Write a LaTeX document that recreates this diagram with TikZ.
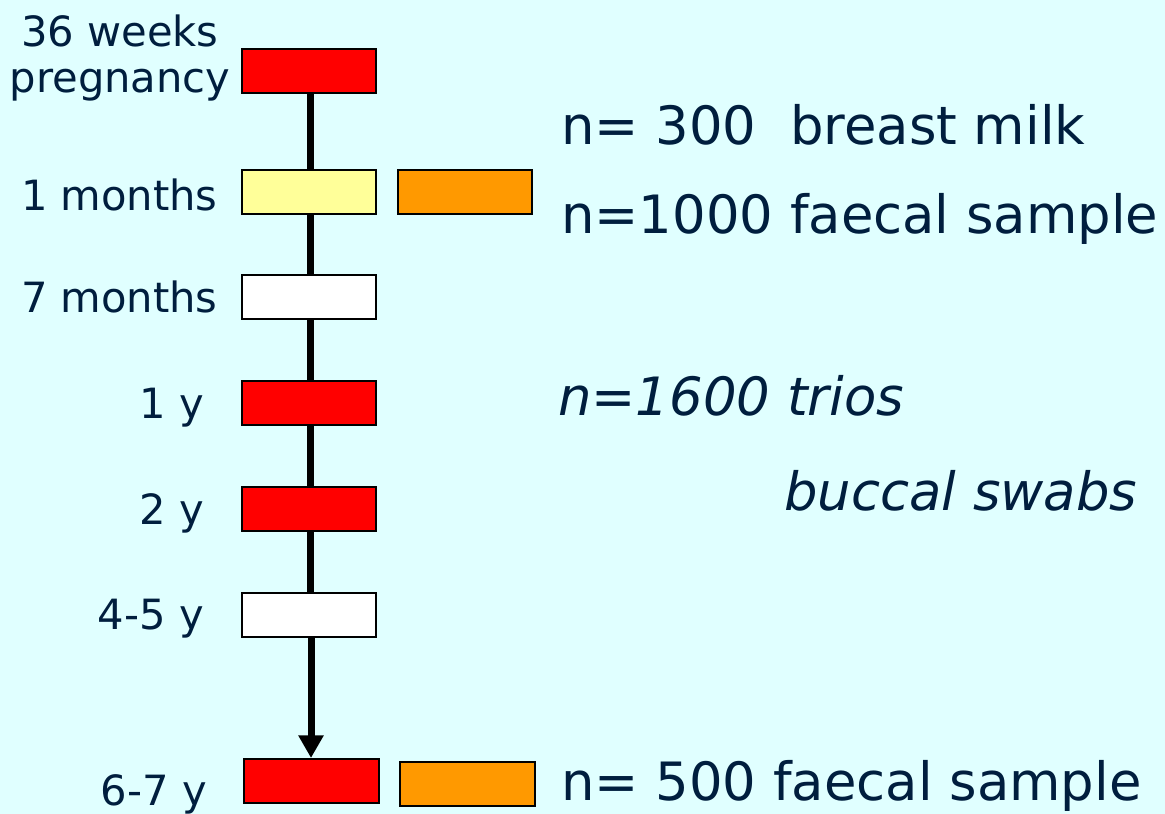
\documentclass[tikz,border=0pt]{standalone}
\usepackage{fontspec}
\setmainfont{DejaVu Sans}
\usetikzlibrary{arrows.meta}
\definecolor{bgcyan}{RGB}{224,255,255}
\definecolor{inkblue}{RGB}{0,30,62}
\definecolor{stagered}{RGB}{255,0,0}
\definecolor{stageyellow}{RGB}{255,255,153}
\definecolor{sampleorange}{RGB}{255,153,0}
\tikzset{
  stagebox/.style={draw=black, line width=1.5pt, rectangle, inner sep=0pt,
    minimum width=101pt, minimum height=33pt},
  agelabel/.style={text=inkblue, inner sep=0pt, font=\fontsize{31.25}{37}\selectfont},
  infotext/.style={text=inkblue, inner sep=0pt, anchor=base west, font=\fontsize{39.6}{48}\selectfont},
  timeline/.style={line width=5.25pt, draw=black},
}
\begin{document}
\begin{tikzpicture}[x=0.75pt, y=-0.75pt]
  % canvas
  \fill[bgcyan] (0,0) rectangle (1165,814);
  \useasboundingbox (0,0) rectangle (1165,814);

  % stage boxes along the time line
  \node[stagebox, fill=stagered]     (w36)  at (309,70.5)  {};
  \node[stagebox, fill=stageyellow]  (m1)   at (309,191.5) {};
  \node[stagebox, fill=sampleorange] (m1f)  at (465,191.5) {};
  \node[stagebox, fill=white]        (m7)   at (309,296.5) {};
  \node[stagebox, fill=stagered]     (y1)   at (309,402.5) {};
  \node[stagebox, fill=stagered]     (y2)   at (309,508.5) {};
  \node[stagebox, fill=white]        (y45)  at (309,614.5) {};
  \node[stagebox, fill=stagered]     (y67)  at (311.5,781) {};
  \node[stagebox, fill=sampleorange] (y67f) at (467.5,784) {};

  % time line linking the stages
  \draw[timeline] ([xshift=0.75pt]w36.south) -- ([xshift=0.75pt]w36.south |- m1.north);
  \draw[timeline] ([xshift=0.75pt]m1.south) -- ([xshift=0.75pt]m1.south |- m7.north);
  \draw[timeline] ([xshift=0.75pt]m7.south) -- ([xshift=0.75pt]m7.south |- y1.north);
  \draw[timeline] ([xshift=0.75pt]y1.south) -- ([xshift=0.75pt]y1.south |- y2.north);
  \draw[timeline] ([xshift=0.75pt]y2.south) -- ([xshift=0.75pt]y2.south |- y45.north);
  \draw[timeline, -{Triangle[width=18pt,length=17pt]}]
    ([xshift=1.5pt]y45.south) -- ([xshift=1.5pt]y45.south |- y67.north);

  % age labels
  \node[agelabel, anchor=base, align=center] (lw36) at (120,92)
    {36 weeks\\[-2.5pt]pregnancy};
  \node[agelabel, anchor=base east] (lm1)  at (218,210) {1 months};
  \node[agelabel, anchor=base east] (lm7)  at (218,312) {7 months};
  \node[agelabel, anchor=base east] (ly1)  at (204,418) {1 y};
  \node[agelabel, anchor=base east] (ly2)  at (204,524) {2 y};
  \node[agelabel, anchor=base east] (ly45) at (204,629) {4-5 y};
  \node[agelabel, anchor=base east] (ly67) at (207,805) {6-7 y};

  % sample counts
  \node[infotext] (milk)   at (561,144) {n=\ 300\ \ breast milk};
  \node[infotext] (faec1)  at (561,233) {n=1000 faecal sample};
  \node[infotext] (trios)  at (558,415) {\itshape n=1600 trios};
  \node[infotext] (buccal) at (784,510) {\itshape buccal swabs};
  \node[infotext] (faec2)  at (561,800) {n=\ 500 faecal sample};
\end{tikzpicture}
\end{document}
